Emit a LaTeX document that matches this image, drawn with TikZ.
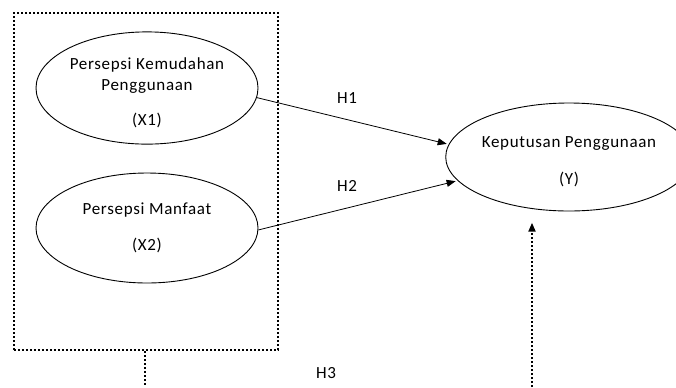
\documentclass[tikz,border=0pt]{standalone}
\usepackage{fontspec}
\setmainfont{Carlito}[LetterSpace=4]
\usetikzlibrary{shapes.geometric, arrows.meta, calc, positioning}

\begin{document}
\begin{tikzpicture}[x=1bp, y=-1bp, >={Triangle[length=9bp,width=7bp]}, font=\fontsize{17bp}{21bp}\selectfont]
    \tikzstyle{var}=[ellipse, draw, line width=0.9bp, inner sep=0pt, align=center, minimum width=222bp, minimum height=112bp]
    \tikzstyle{dots}=[line width=2bp, dash pattern=on 1.8bp off 2.2bp]
    \tikzstyle{hyp}=[inner sep=0pt]
    \useasboundingbox (0,0) rectangle (676,387);

    % Variables
    \node (x1)[var] at (147,88) {\mbox{}\\Persepsi Kemudahan\\Penggunaan\\[14bp](X1)};
    \node (x2)[var, minimum height=110bp] at (147,228) {Persepsi Manfaat\\[15bp](X2)};
    \node (y)[var, minimum width=212bp, minimum height=108bp] at (569,157) {\mbox{}\\Keputusan Penggunaan\\[16bp](Y)};

    % Dotted group round X1 and X2
    \node (grp)[draw, dots, inner sep=0pt, minimum width=264bp, minimum height=337bp] at (146,181.5) {};

    % Hypothesis labels
    \node (h1)[hyp] at (347,98) {H1};
    \node (h2)[hyp] at (347,186) {H2};
    \node (h3)[hyp] at (326,373) {H3};

    % Partial effects
    \draw[->, line width=0.8bp, shorten >=2bp] (x1.-5.3) -- (y.174.8);
    \draw[->, line width=0.8bp, shorten >=2bp] (x2.-1) -- (y.192.2);

    % Joint effect (runs off the bottom)
    \coordinate (h3l) at (145,387);
    \coordinate (h3r) at (532,387);
    \draw[dots] (grp.south -| h3l) -- (h3l);
    \draw[dots, ->, shorten >=14bp] (h3r) -- (h3r |- y.233.8);
\end{tikzpicture}
\end{document}
